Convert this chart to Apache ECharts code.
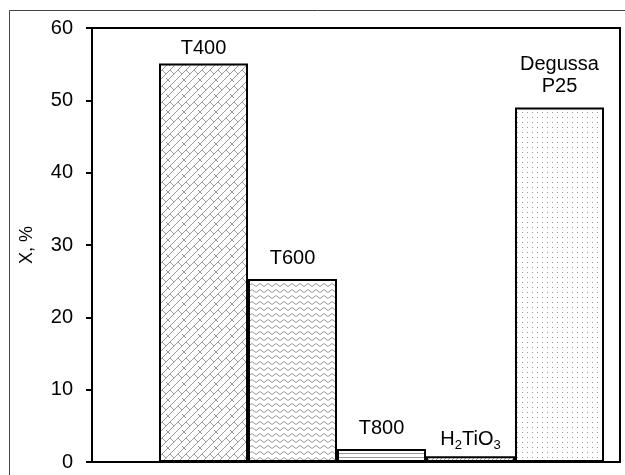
<!DOCTYPE html>
<html>
<head>
<meta charset="utf-8">
<script src="https://cdn.jsdelivr.net/npm/echarts@6/dist/echarts.min.js"></script>
<style>html,body{margin:0;padding:0;background:#fff;}#c{width:625px;height:475px;}</style>
</head>
<body>
<div id="c"></div>
<script>
// ---- data ----
var categories = ['T400', 'T600', 'T800', 'H2TiO3', 'Degussa P25'];
var values = [55.1, 25.3, 1.8, 0.8, 49.0];
var barLabels = ['T400', 'T600', 'T800', 'H{sub|2}TiO{sub|3}', 'Degussa\nP25'];
var yTicks = [0, 10, 20, 30, 40, 50, 60];
var yName = 'X, %';

// ---- patterns ----
function tile(w, h, draw) {
  var c = document.createElement('canvas');
  c.width = w; c.height = h;
  var g = c.getContext('2d');
  g.fillStyle = '#fff'; g.fillRect(0, 0, w, h);
  g.strokeStyle = '#999'; g.fillStyle = '#999'; g.lineWidth = 1;
  draw(g);
  return { image: c, repeat: 'repeat' };
}
function seg(g, pts) { g.beginPath(); g.moveTo(pts[0], pts[1]); for (var i = 2; i < pts.length; i += 2) g.lineTo(pts[i], pts[i + 1]); g.stroke(); }
var patterns = [
  tile(16, 16, function (g) {
    seg(g, [0, 8, 8, 0]); seg(g, [0, 16, 16, 0]); seg(g, [8, 16, 16, 8]);
    seg(g, [2, 6, 6, 10]); seg(g, [10, 6, 14, 10]); seg(g, [6, 14, 8, 16]); seg(g, [6, -2, 10, 2]);
  }),
  tile(8, 6, function (g) { seg(g, [0, 4.5, 4, 1.5, 8, 4.5]); }),
  tile(4, 4, function (g) { seg(g, [0, 1.5, 4, 1.5]); }),
  tile(4, 4, function (g) { seg(g, [0, 4, 4, 0]); }),
  tile(5, 5, function (g) { g.fillRect(2, 2, 1, 1); })
];
var labelDist = [4, 10, 9, 6, 10];

var font = 'Liberation Sans, Arial, sans-serif';
var data = values.map(function (v, i) {
  return {
    value: v,
    itemStyle: { color: patterns[i] },
    label: { distance: labelDist[i], formatter: barLabels[i] }
  };
});

var chart = echarts.init(document.getElementById('c'), null, { renderer: 'canvas' });
chart.setOption({
  animation: false,
  backgroundColor: '#fff',
  graphic: [{
    type: 'rect', shape: { x: 9.5, y: 10.5, width: 700, height: 600 },
    style: { fill: 'none', stroke: '#444', lineWidth: 1 }, z: -10, silent: true
  }],
  grid: [
    { left: 92, right: 5, top: 28, bottom: 13, show: true, borderColor: '#000', borderWidth: 2, backgroundColor: 'transparent' },
    { left: 159, width: 445, top: 28, bottom: 13 }
  ],
  xAxis: [
    { gridIndex: 0, type: 'value', min: 0, max: 1,
      axisLine: { show: true, onZero: false, lineStyle: { color: '#000', width: 2 } },
      axisTick: { show: false }, axisLabel: { show: false }, splitLine: { show: false } },
    { gridIndex: 1, type: 'category', data: categories,
      axisLine: { show: false }, axisTick: { show: false }, axisLabel: { show: false }, splitLine: { show: false } }
  ],
  yAxis: [
    { gridIndex: 0, type: 'value', min: yTicks[0], max: yTicks[yTicks.length - 1], interval: 10,
      name: yName, nameLocation: 'middle', nameGap: 56, nameRotate: 90,
      nameTextStyle: { fontFamily: font, fontSize: 18, color: '#000' },
      axisLine: { show: true, lineStyle: { color: '#000', width: 2 } },
      axisTick: { show: true, inside: false, length: 6, lineStyle: { color: '#000', width: 2 } },
      axisLabel: { fontFamily: font, fontSize: 20, color: '#000', margin: 19 },
      splitLine: { show: false } },
    { gridIndex: 1, type: 'value', min: yTicks[0], max: yTicks[yTicks.length - 1], show: false, splitLine: { show: false } }
  ],
  series: [{
    type: 'bar', xAxisIndex: 1, yAxisIndex: 1, data: data,
    barWidth: '100%', barCategoryGap: 0,
    itemStyle: { borderColor: '#000', borderWidth: 2 },
    label: {
      show: true, position: 'top', color: '#000', fontFamily: font, fontSize: 20, lineHeight: 22,
      rich: {
        sub: { fontFamily: font, fontSize: 13, lineHeight: 14, padding: [12, 0, 0, 0], color: '#000' }
      }
    }
  }]
});
</script>
</body>
</html>
